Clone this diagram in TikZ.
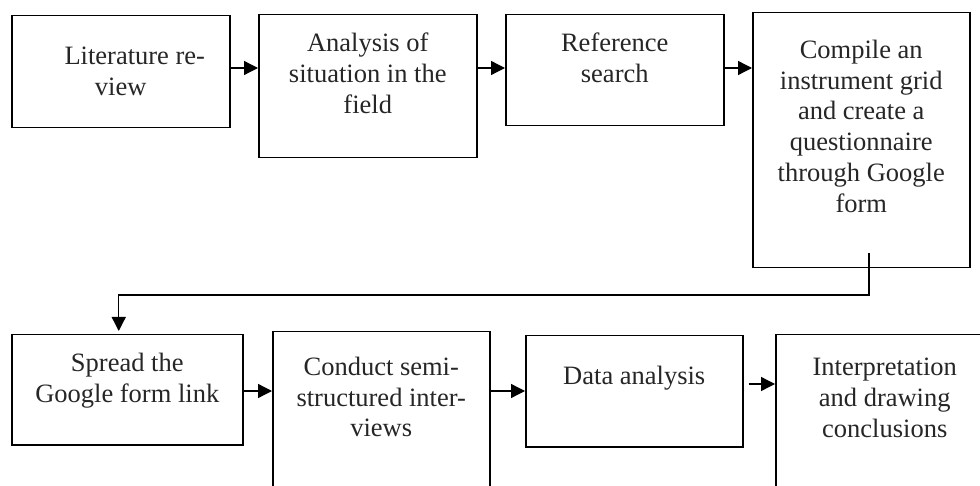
\documentclass[tikz,border=0pt]{standalone}
\usepackage{fontspec}
\setmainfont{Liberation Serif}
\usetikzlibrary{arrows.meta}

\begin{document}
\begin{tikzpicture}[x=1pt, y=-1pt,
  stepbox/.style={draw, line width=1.5pt, anchor=north west, inner sep=0pt},
  steptext/.style={anchor=north, align=center, inner sep=0pt, text=black!85,
    font=\fontsize{26.5}{30.7}\selectfont},
  flow/.style={->, line width=1.3pt},
  >={Triangle[length=14pt, width=14pt]}]
\useasboundingbox (0,0) rectangle (980,486);
\clip (0,0) rectangle (980,486);
% first row
\node[stepbox, minimum width=218pt, minimum height=112pt] at (11,15) (lit) {};
\node[stepbox, minimum width=218pt, minimum height=143pt] at (258,14) (situ) {};
\node[stepbox, minimum width=218pt, minimum height=111pt] at (505,14) (refs) {};
\node[stepbox, minimum width=217pt, minimum height=255pt] at (752,12) (grid) {};
% second row
\node[stepbox, minimum width=231pt, minimum height=110pt] at (11,334) (spread) {};
\node[stepbox, minimum width=217pt, minimum height=190pt] at (272,331) (interv) {};
\node[stepbox, minimum width=217pt, minimum height=111pt] at (525,335) (data) {};
\node[stepbox, minimum width=218pt, minimum height=190pt] at (775,334) (concl) {};
% texts
\node[steptext] at ([yshift=-32pt]lit.north) (lit-t) {\hspace*{28pt}Literature re-\\view};
\node[steptext] at ([yshift=-19pt]situ.north) (situ-t) {Analysis of\\situation in the\\field};
\node[steptext] at ([yshift=-19pt]refs.north) (refs-t) {Reference\\search};
\node[steptext] at ([yshift=-28pt]grid.north) (grid-t) {Compile an\\instrument grid\\and create a\\questionnaire\\through Google\\form};
\node[steptext] at ([yshift=-19pt]spread.north) (spread-t) {Spread the\\Google form link};
\node[steptext] at ([yshift=-26pt]interv.north) (interv-t) {Conduct semi-\\structured inter-\\views};
\node[steptext] at ([yshift=-31pt]data.north) (data-t) {Data analysis};
\node[steptext] at ([yshift=-24pt]concl.north) (concl-t) {Interpretation\\and drawing\\conclusions};
% connectors
\path[flow] (lit.east |- 0,68) edge (situ.west |- 0,68);
\path[flow] (situ.east |- 0,68) edge (refs.west |- 0,68);
\path[flow] (refs.east |- 0,68) edge (grid.west |- 0,68);
\coordinate (turn) at (869,253);
\draw[flow, shorten >=3pt] (turn) |- ([xshift=-8.5pt, yshift=39pt]spread.north) -- ([xshift=-8.5pt]spread.north);
\path[flow] (spread.east |- 0,391) edge (interv.west |- 0,391);
\path[flow] (interv.east |- 0,391) edge (data.west |- 0,391);
\path[flow] (data.east |- 0,384) edge[shorten <=5pt] (concl.west |- 0,384);
\end{tikzpicture}
\end{document}
